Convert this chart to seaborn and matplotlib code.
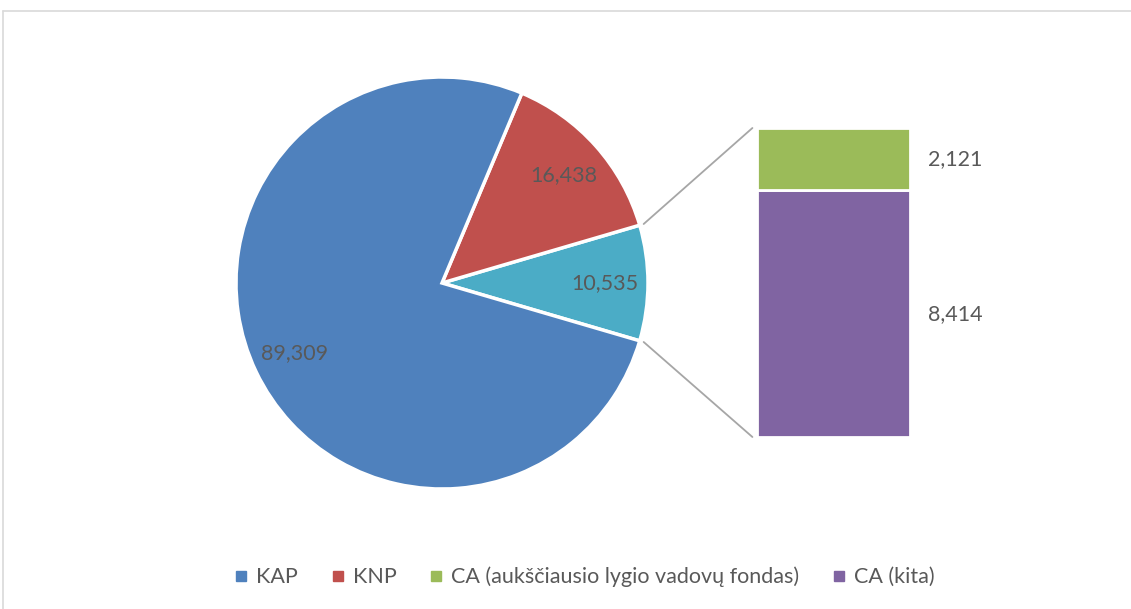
import matplotlib.pyplot as plt
import seaborn as sns
import numpy as np
from matplotlib.lines import Line2D
from matplotlib.patches import ConnectionPatch

# pie values (CA is the sum of the two bar parts)
pie_labels = ['CA', 'KNP', 'KAP']
pie_values = [10535, 16438, 89309]
pie_colors = ['#4bacc6', '#c0504d', '#4f81bd']

# bar breakdown of CA, bottom to top
bar_labels = ['CA (kita)', 'CA (aukščiausio lygio vadovų fondas)']
bar_values = [8414, 2121]
bar_colors = ['#8064a2', '#9bbb59']

legend_labels = ['KAP', 'KNP', 'CA (aukščiausio lygio vadovų fondas)', 'CA (kita)']
legend_colors = ['#4f81bd', '#c0504d', '#9bbb59', '#8064a2']

sns.set_style('white')
plt.rcParams['font.family'] = ['Lato', 'DejaVu Sans']
text_col = '#595959'

W, H = 1131, 609
fig = plt.figure(figsize=(W / 100, H / 100), dpi=100)

# chart frame (left and top edges visible)
fig.add_artist(Line2D([3 / W, 3 / W], [0, 598 / H], color='#d9d9d9', lw=1.2))
fig.add_artist(Line2D([3 / W, 1], [598 / H, 598 / H], color='#d9d9d9', lw=1.2))

# pie
cx, cy, r = 442, 609 - 283, 206
ax_pie = fig.add_axes([(cx - r) / W, (cy - r) / H, 2 * r / W, 2 * r / H])
total = sum(pie_values)
half = pie_values[0] / total * 360 / 2
wedges, texts, autotexts = ax_pie.pie(
    pie_values, colors=pie_colors, startangle=-half, counterclock=True,
    radius=1, pctdistance=0.79,
    autopct=lambda p: f'{p * total / 100:,.0f}',
    wedgeprops=dict(edgecolor='white', linewidth=2.5),
    textprops=dict(color=text_col, fontsize=15.5))
ax_pie.set_xlim(-1, 1)
ax_pie.set_ylim(-1, 1)
ax_pie.set_aspect('equal')
ax_pie.axis('off')

# stacked bar
bx0, bx1, by0, by1 = 757, 910, 609 - 437, 609 - 128
ax_bar = fig.add_axes([bx0 / W, by0 / H, (bx1 - bx0) / W, (by1 - by0) / H])
bottom = 0
for val, col in zip(bar_values, bar_colors):
    ax_bar.bar(0, val, bottom=bottom, width=1, color=col, edgecolor='white', linewidth=2)
    ax_bar.text(0.5 + 0.12, bottom + val / 2, f'{val:,}', ha='left', va='center',
                color=text_col, fontsize=15.5, clip_on=False)
    bottom += val
ax_bar.set_xlim(-0.5, 0.5)
ax_bar.set_ylim(0, sum(bar_values))
ax_bar.axis('off')

# connector lines
for ang, yb in [(half, sum(bar_values)), (-half, 0)]:
    a = np.deg2rad(ang)
    con = ConnectionPatch(xyA=(1.02 * np.cos(a), 1.02 * np.sin(a)), coordsA=ax_pie.transData,
                          xyB=(-0.53, yb), coordsB=ax_bar.transData,
                          color='#a6a6a6', lw=1.3)
    fig.add_artist(con)

# legend
handles = [Line2D([], [], marker='s', ls='', color=c, markersize=7) for c in legend_colors]
fig.legend(handles, legend_labels, loc='center', bbox_to_anchor=(0.516, 1 - 577 / H),
           ncol=4, frameon=False, fontsize=15.5, labelcolor=text_col,
           handletextpad=0.3, columnspacing=1.45, handlelength=0.8)

fig.savefig('out.png', dpi=100)
